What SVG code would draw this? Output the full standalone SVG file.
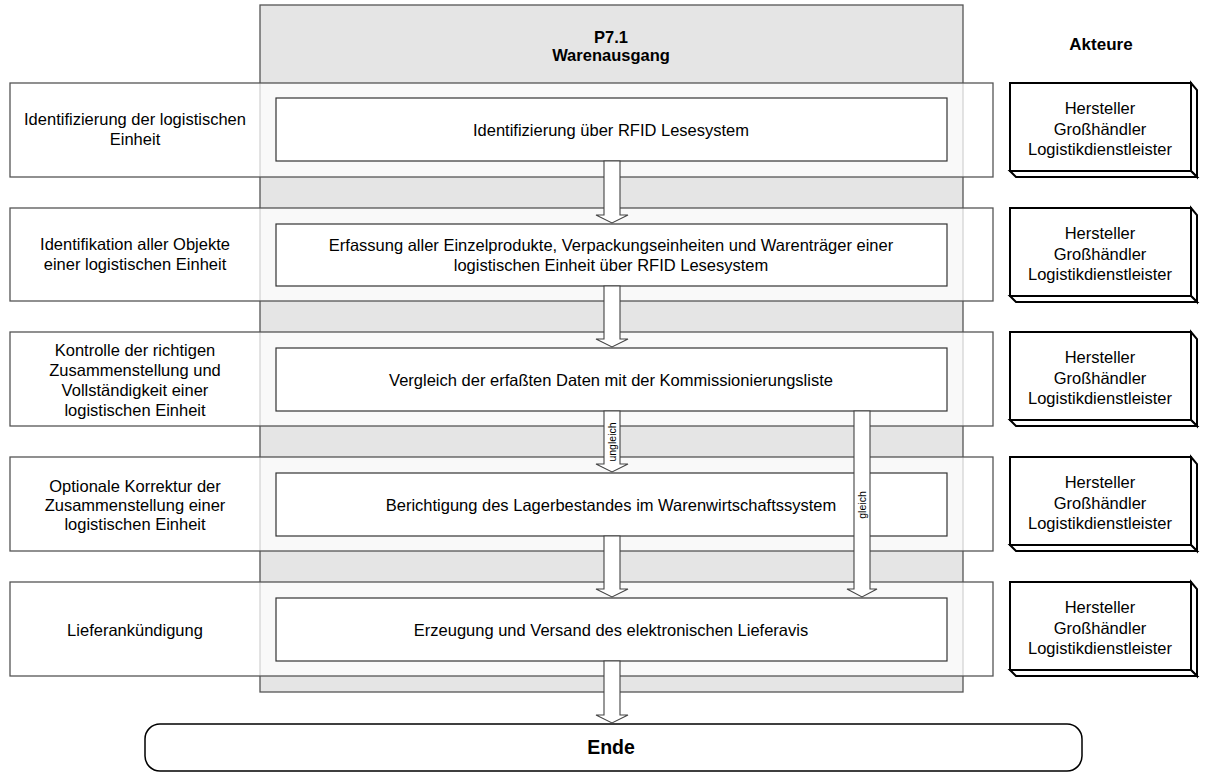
<svg xmlns="http://www.w3.org/2000/svg" width="1205" height="774" viewBox="0 0 1205 774">
<style>
text{font-family:"Liberation Sans",Arial,sans-serif;font-size:16.5px;fill:#000;text-anchor:middle}
.b{font-weight:bold}
.row{fill:#fff;fill-opacity:0.75;stroke:#555;stroke-width:1.3}
.proc{fill:#fff;stroke:#333;stroke-width:1.2}
.act{fill:#fff;stroke:#000;stroke-width:2;stroke-linejoin:miter}
.arr{fill:#fff;stroke:#444;stroke-width:1.1}
.lbl{font-size:10.5px}
</style>
<rect width="1205" height="774" fill="#fff"/>
<g id="column">
<rect x="260" y="5" width="703" height="687" fill="#e5e5e5" stroke="#555" stroke-width="1.3"/>
<text class="b" x="611" y="43">P7.1</text>
<text class="b" x="611" y="61">Warenausgang</text>
</g>
<text class="b" x="1101" y="50" style="font-size:17px">Akteure</text>

<g id="row1">
<rect class="row" x="10" y="83" width="983" height="94"/>
<text x="135" y="125">Identifizierung der logistischen</text>
<text x="135" y="145">Einheit</text>
<rect class="proc" x="276" y="98" width="671" height="63"/>
<text x="611" y="136">Identifizierung über RFID Lesesystem</text>
</g>
<g id="row2">
<rect class="row" x="10" y="208" width="983" height="93"/>
<text x="135" y="250">Identifikation aller Objekte</text>
<text x="135" y="270">einer logistischen Einheit</text>
<rect class="proc" x="276" y="224" width="671" height="62"/>
<text x="611" y="251">Erfassung aller Einzelprodukte, Verpackungseinheiten und Warenträger einer</text>
<text x="611" y="271">logistischen Einheit über RFID Lesesystem</text>
</g>
<g id="row3">
<rect class="row" x="10" y="332" width="983" height="94"/>
<text x="135" y="356">Kontrolle der richtigen</text>
<text x="135" y="376">Zusammenstellung und</text>
<text x="135" y="396">Vollständigkeit einer</text>
<text x="135" y="416">logistischen Einheit</text>
<rect class="proc" x="276" y="348" width="671" height="63"/>
<text x="611" y="386">Vergleich der erfaßten Daten mit der Kommissionierungsliste</text>
</g>
<g id="row4">
<rect class="row" x="10" y="457" width="983" height="94"/>
<text x="135" y="492">Optionale Korrektur der</text>
<text x="135" y="511">Zusammenstellung einer</text>
<text x="135" y="530">logistischen Einheit</text>
<rect class="proc" x="276" y="473" width="671" height="63"/>
<text x="611" y="511">Berichtigung des Lagerbestandes im Warenwirtschaftssystem</text>
</g>
<g id="row5">
<rect class="row" x="10" y="582" width="983" height="94"/>
<text x="135" y="636">Lieferankündigung</text>
<rect class="proc" x="276" y="598" width="671" height="63"/>
<text x="611" y="636">Erzeugung und Versand des elektronischen Lieferavis</text>
</g>

<g id="actors">
<g id="actor1" transform="translate(0,83)">
<polygon class="act" points="1191,0 1197,7 1197,94 1191,88"/>
<polygon class="act" points="1010,88 1016,94 1197,94 1191,88"/>
<rect class="act" x="1010" y="0" width="181" height="88"/>
<text x="1100" y="31">Hersteller</text><text x="1100" y="52">Großhändler</text><text x="1100" y="72">Logistikdienstleister</text>
</g>
<g id="actor2" transform="translate(0,208)">
<polygon class="act" points="1191,0 1197,7 1197,94 1191,88"/>
<polygon class="act" points="1010,88 1016,94 1197,94 1191,88"/>
<rect class="act" x="1010" y="0" width="181" height="88"/>
<text x="1100" y="31">Hersteller</text><text x="1100" y="52">Großhändler</text><text x="1100" y="72">Logistikdienstleister</text>
</g>
<g id="actor3" transform="translate(0,332)">
<polygon class="act" points="1191,0 1197,7 1197,94 1191,88"/>
<polygon class="act" points="1010,88 1016,94 1197,94 1191,88"/>
<rect class="act" x="1010" y="0" width="181" height="88"/>
<text x="1100" y="31">Hersteller</text><text x="1100" y="52">Großhändler</text><text x="1100" y="72">Logistikdienstleister</text>
</g>
<g id="actor4" transform="translate(0,457)">
<polygon class="act" points="1191,0 1197,7 1197,94 1191,88"/>
<polygon class="act" points="1010,88 1016,94 1197,94 1191,88"/>
<rect class="act" x="1010" y="0" width="181" height="88"/>
<text x="1100" y="31">Hersteller</text><text x="1100" y="52">Großhändler</text><text x="1100" y="72">Logistikdienstleister</text>
</g>
<g id="actor5" transform="translate(0,582)">
<polygon class="act" points="1191,0 1197,7 1197,94 1191,88"/>
<polygon class="act" points="1010,88 1016,94 1197,94 1191,88"/>
<rect class="act" x="1010" y="0" width="181" height="88"/>
<text x="1100" y="31">Hersteller</text><text x="1100" y="52">Großhändler</text><text x="1100" y="72">Logistikdienstleister</text>
</g>
</g>

<g id="ende">
<rect x="145" y="724" width="937" height="47" rx="15" ry="15" fill="#fff" stroke="#000" stroke-width="1.5"/>
<text class="b" x="611" y="754" style="font-size:19.5px">Ende</text>
</g>

<g id="connectors">
<polygon class="arr" points="604,161 620,161 620,215 628,215 612,223 596,215 604,215"/>
<polygon class="arr" points="604,286 620,286 620,339 628,339 612,347 596,339 604,339"/>
<polygon class="arr" points="604,411 620,411 620,464 628,464 612,472 596,464 604,464"/>
<text class="lbl" transform="translate(616,442) rotate(-90)">ungleich</text>
<polygon class="arr" points="854,411 870,411 870,589 877,589 862,597 847,589 854,589"/>
<text class="lbl" transform="translate(866,505) rotate(-90)">gleich</text>
<polygon class="arr" points="604,536 620,536 620,589 628,589 612,597 596,589 604,589"/>
<polygon class="arr" points="604,661 620,661 620,715 628,715 612,723 596,715 604,715"/>
</g>
</svg>
